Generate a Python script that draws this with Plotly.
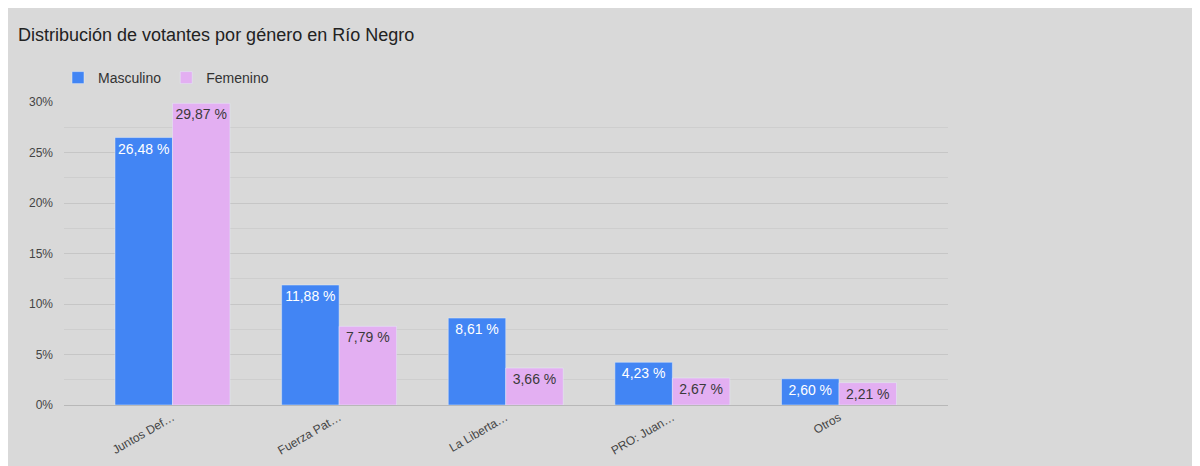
import plotly.graph_objects as go

categories = ["Juntos Def…", "Fuerza Pat…", "La Liberta…", "PRO: Juan…", "Otros"]
masculino = [26.48, 11.88, 8.61, 4.23, 2.60]
femenino = [29.87, 7.79, 3.66, 2.67, 2.21]
tick_vals = [0, 5, 10, 15, 20, 25, 30]
tick_text = ["0%", "5%", "10%", "15%", "20%", "25%", "30%"]

def fmt(v):
    return f"{v:.2f}".replace(".", ",") + " %"

FONT = "Liberation Sans, Arial, sans-serif"
x = list(range(len(categories)))
W, H = 1192, 458  # page has an 8px body margin

fig = go.Figure()
fig.add_trace(go.Bar(
    x=x, y=masculino, name="Masculino", marker_color="#4285f4",
    text=[fmt(v) for v in masculino], textposition="inside",
    insidetextanchor="end", textangle=0,
    textfont=dict(color="#ffffff", size=14, family=FONT),
))
fig.add_trace(go.Bar(
    x=x, y=femenino, name="Femenino", marker_color="#e3aff2",
    text=[fmt(v) for v in femenino], textposition="inside",
    insidetextanchor="end", textangle=0,
    textfont=dict(color="#3a3a3a", size=14, family=FONT),
))

fig.update_layout(
    width=W, height=H,
    paper_bgcolor="#d9d9d9", plot_bgcolor="#d9d9d9",
    margin=dict(l=56, r=252, t=94, b=61, autoexpand=False),
    barmode="group", bargap=0.31, bargroupgap=0,
    font=dict(family=FONT, color="#444444"),
    title=dict(text="Distribución de votantes por género en Río Negro",
               x=10/W, xref="container", xanchor="left",
               y=1-27/H, yref="container", yanchor="middle",
               font=dict(size=18, color="#222222", family=FONT)),
    legend=dict(orientation="h", x=50/W, xref="container", xanchor="left",
                y=1-70/H, yref="container", yanchor="middle",
                font=dict(size=14, color="#333333", family=FONT),
                bgcolor="rgba(0,0,0,0)", traceorder="normal"),
    showlegend=True,
)
fig.update_xaxes(
    tickmode="array", tickvals=x, ticktext=categories,
    range=[-0.651, 4.654], tickangle=-30, automargin=False,
    tickfont=dict(size=12, color="#444444", family=FONT),
    showgrid=False, showline=True, linecolor="#b8b8b8", linewidth=1,
    ticks="", zeroline=False,
)
fig.update_yaxes(
    range=[0, 30], tickmode="array", tickvals=tick_vals, ticktext=tick_text,
    tickfont=dict(size=12, color="#444444", family=FONT), automargin=False,
    showgrid=True, gridcolor="#c6c6c6", gridwidth=1,
    minor=dict(dtick=2.5, showgrid=True, gridcolor="#cecece", gridwidth=1),
    zeroline=False, ticks="", ticklabelstandoff=10,
)
fig.write_html("out.html")
